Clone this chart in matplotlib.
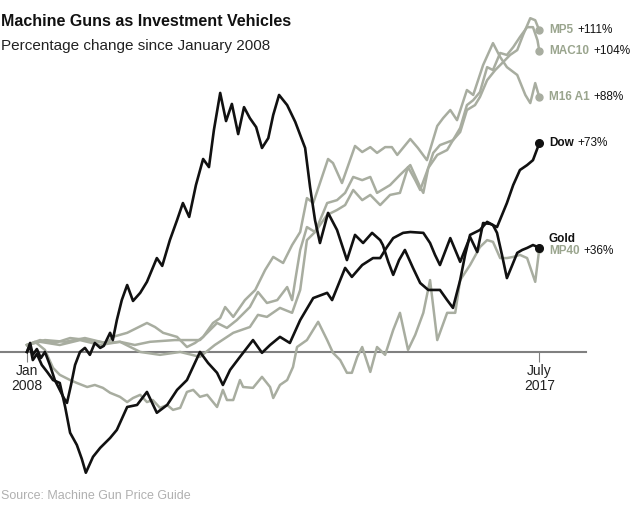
import matplotlib.pyplot as plt

plt.rcParams['font.family'] = ['Liberation Sans', 'DejaVu Sans']

# x = months since January 2008, y = percentage change since January 2008
dow = [(0, 0), (0.7, 2.1), (1.3, -2.8), (2.2, -0.7), (3.3, -4.5), (4.5, -6.9), (5.8, -9.7),
       (7.3, -10.7), (8.5, -19.0), (9.6, -27.9), (11.1, -32.1), (12.2, -36.9), (13.1, -41.7),
       (14.7, -36.2), (16.3, -33.1), (18.5, -29.7), (20.0, -26.9), (22.3, -19.0), (24.5, -18.3),
       (26.7, -13.8), (28.9, -21.0), (31.2, -18.3), (33.4, -13.1), (35.6, -9.7), (38.5, 0),
       (40.3, -3.8), (42.3, -7.2), (43.6, -11.4), (45.2, -6.2), (47.4, -1.7), (50.3, 4.1),
       (52.3, -0.3), (54.1, 2.4), (56.3, 5.2), (58.5, 3.1), (60.8, 11.0), (63.7, 18.6),
       (66.8, 20.4), (67.9, 17.9), (70.8, 29.0), (72.3, 25.9), (74.6, 30.0), (77.0, 32.4),
       (78.6, 32.4), (80.1, 36.2), (81.5, 39.3), (83.7, 41.1), (85.3, 41.4), (88.2, 41.1),
       (89.7, 37.6), (90.8, 33.5), (91.9, 30.0), (94.2, 39.3), (95.3, 35.2), (96.4, 31.1),
       (98.6, 39.7), (100.2, 34.5), (101.5, 44.5), (103.1, 44.2), (104.6, 43.1), (106.8, 51.4),
       (108.2, 57.6), (109.7, 62.8), (111.3, 64.5), (112.6, 66.2), (114, 72)]

gold = [(0, 0), (0.7, 3.1), (1.3, -1.0), (2.2, 1.0), (3.1, -2.1), (4.0, 0), (5.1, -4.5),
        (6.2, -9.7), (7.3, -13.1), (8.2, -15.9), (8.9, -17.6), (9.8, -11.4), (10.7, -4.5),
        (11.8, 0), (12.9, 1.4), (14.0, -1.0), (15.1, 3.1), (16.3, 1.4), (17.1, 2.1), (18.5, 6.6),
        (19.1, 4.1), (20.0, 11.0), (21.1, 17.9), (22.3, 23.1), (23.6, 17.6), (25.2, 20.4),
        (26.7, 24.2), (28.9, 32.4), (30.1, 29.7), (31.8, 38.6), (33.4, 45.5), (34.7, 51.4),
        (36.1, 46.6), (37.6, 57.6), (39.2, 66.6), (40.5, 63.8), (41.6, 76.6), (43.0, 89.4),
        (44.3, 79.7), (45.6, 85.6), (47.0, 75.2), (48.3, 84.5), (49.6, 80.7), (51.0, 77.6),
        (52.3, 70.4), (53.7, 73.8), (54.8, 81.8), (56.1, 88.7), (57.9, 85.2), (59.7, 79.4),
        (60.8, 74.9), (61.9, 70.4), (63.0, 56.9), (64.1, 45.5), (65.2, 37.6), (67.0, 48.0),
        (69.0, 42.1), (71.2, 31.7), (73.0, 40.4), (74.8, 37.6), (76.8, 41.1), (78.6, 38.6),
        (79.2, 36.9), (80.4, 31.1), (81.5, 26.6), (82.8, 31.7), (84.1, 35.2), (85.9, 29.0),
        (87.5, 23.8), (89.3, 21.4), (91.9, 21.4), (93.5, 17.9), (94.8, 15.2), (96.4, 24.8),
        (97.5, 33.5), (98.6, 40.4), (100.8, 42.1), (102.4, 44.9), (103.7, 43.8), (104.6, 41.1),
        (105.7, 33.5), (106.8, 25.5), (108.0, 30.0), (109.1, 34.2), (110.2, 35.2), (111.3, 35.9),
        (112.6, 36.9), (114, 36)]

mp5 = [(0, 2.4), (2.9, 3.5), (7.3, 2.4), (11.8, 4.1), (16.3, 2.4), (20.7, 3.5), (25.2, 0),
       (29.6, -1.0), (34.1, 0), (38.5, -1.7), (41.8, 2.4), (45.9, 6.6), (49.6, 8.6), (51.4, 12.8),
       (53.4, 12.1), (56.3, 15.2), (59.0, 13.5), (60.8, 21.4), (62.3, 38.6), (64.1, 41.4),
       (66.8, 47.3), (69.0, 49.0), (70.8, 50.7), (72.6, 55.9), (74.6, 52.4), (76.4, 54.2),
       (78.6, 50.7), (80.8, 54.2), (83.0, 54.9), (84.8, 63.8), (86.4, 59.3), (87.5, 55.9),
       (89.3, 63.5), (91.3, 68.0), (93.5, 69.7), (94.8, 73.1), (96.4, 75.9), (97.9, 83.5),
       (99.7, 85.2), (100.8, 88.0), (102.4, 93.8), (104.2, 97.3), (106.0, 100.1), (107.5, 102.5),
       (109.1, 104.2), (110.4, 109.4), (112.0, 115.2), (113.1, 114.5), (114, 111)]

mac10 = [(0, 2.4), (4.0, 4.1), (8.5, 3.5), (12.9, 4.8), (17.4, 3.1), (20.7, 3.5), (24.0, 2.4),
         (27.4, 3.5), (32.9, 4.1), (38.5, 4.1), (42.3, 10.0), (44.5, 8.3), (46.7, 11.0),
         (49.6, 15.5), (51.4, 20.7), (53.4, 16.9), (55.7, 17.9), (57.9, 22.4), (59.0, 17.9),
         (59.7, 24.8), (60.8, 35.2), (62.3, 43.1), (64.1, 41.4), (65.9, 48.0), (66.8, 51.4),
         (69.0, 52.4), (70.8, 54.9), (72.6, 60.4), (74.6, 59.3), (76.4, 60.4), (77.9, 54.9),
         (80.8, 57.6), (83.0, 61.1), (85.3, 64.5), (87.5, 56.9), (88.2, 54.9), (89.3, 63.5),
         (90.4, 68.7), (91.9, 71.4), (94.8, 73.1), (96.4, 77.3), (97.9, 85.2), (99.3, 86.9),
         (100.8, 89.7), (102.4, 98.3), (103.7, 97.3), (105.3, 103.2), (106.8, 102.5),
         (108.2, 105.2), (109.7, 108.7), (111.3, 112.1), (112.6, 112.1), (113.6, 107.6), (114, 104)]

m16 = [(0, 2.4), (2.9, 4.1), (6.2, 3.1), (9.6, 4.8), (13.4, 4.1), (17.8, 3.1), (19.1, 5.2),
       (22.3, 6.6), (26.7, 10.0), (28.5, 8.6), (30.3, 6.6), (33.4, 5.2), (35.6, 1.7), (37.4, 3.1),
       (39.2, 5.2), (41.4, 10.0), (43.0, 11.7), (44.1, 15.5), (45.9, 12.1), (48.5, 17.9),
       (50.8, 21.4), (53.0, 28.3), (54.8, 32.8), (57.0, 30.7), (59.0, 36.9), (60.8, 41.4),
       (62.3, 53.1), (63.7, 51.4), (65.2, 58.3), (67.0, 66.6), (68.1, 65.2), (70.1, 58.3),
       (73.0, 71.1), (74.6, 69.0), (76.4, 70.7), (77.9, 68.7), (79.7, 70.7), (81.2, 70.7),
       (82.4, 68.0), (85.3, 73.5), (87.0, 70.4), (89.0, 66.2), (91.3, 78.0), (92.6, 80.7),
       (94.2, 83.5), (95.7, 80.0), (97.9, 90.4), (99.3, 88.7), (101.5, 99.0), (103.7, 106.6),
       (105.3, 101.8), (106.8, 98.3), (109.1, 95.6), (110.9, 88.7), (112.0, 85.9), (113.1, 92.8),
       (114, 88)]

mp40 = [(0, 2.4), (1.8, 3.5), (4.0, 0.7), (5.8, -5.5), (7.3, -7.9), (9.6, -9.7), (11.1, -10.7),
        (13.4, -12.1), (15.1, -11.4), (16.9, -12.4), (18.5, -14.1), (20.7, -15.5), (22.3, -17.3),
        (23.6, -15.9), (25.2, -14.8), (26.7, -17.3), (28.0, -16.6), (29.6, -19.3), (31.2, -18.3),
        (32.5, -20.0), (34.1, -19.3), (35.6, -13.8), (37.0, -13.1), (38.5, -15.5), (40.1, -14.8),
        (42.3, -19.0), (43.6, -13.1), (44.5, -16.6), (45.9, -16.6), (47.4, -9.7), (48.1, -12.1),
        (50.3, -12.4), (52.3, -8.6), (54.1, -12.1), (54.8, -15.9), (56.3, -11.4), (57.9, -9.7),
        (59.2, -5.2), (60.1, 1.7), (62.3, 4.1), (64.8, 10.4), (66.8, 4.1), (68.1, -0.3),
        (69.7, -2.8), (71.2, -7.2), (72.3, -7.2), (73.5, -1.7), (74.6, 1.7), (76.4, -6.9),
        (77.9, 1.7), (79.7, -1.0), (81.5, 7.6), (83.0, 13.5), (84.8, 0.7), (86.4, 5.9),
        (88.2, 13.5), (89.7, 24.8), (91.3, 4.1), (93.5, 13.5), (95.3, 13.5), (96.4, 24.8),
        (98.6, 30.0), (100.8, 36.2), (102.4, 38.6), (103.7, 38.0), (105.3, 32.4), (106.8, 32.4),
        (108.2, 32.8), (109.7, 33.5), (111.3, 32.4), (113.1, 24.2), (114, 35.5)]

gun_series = [mp5, mac10, m16, mp40]
black_series = [dow, gold]

# end labels: name, change text, name colour, extra vertical offset (points)
end_labels = [
    ('MP5', '+111%', 'gun', 0, mp5),
    ('MAC10', '+104%', 'gun', 0, mac10),
    ('M16 A1', '+88%', 'gun', 0, m16),
    ('Dow', '+73%', 'black', 0, dow),
    ('Gold', '', 'black', 6, gold),
    ('MP40', '+36%', 'gun', -1.5, mp40),
]

tick_pos = [0, 114]
tick_labels = ['Jan\n2008', 'July\n2017']

GUN_LINE = '#a8ada0'
GUN_TEXT = '#9aa58e'

fig = plt.figure(figsize=(6.4, 5.18), dpi=100)
ax = fig.add_axes([0, 38 / 518, 586 / 640, 465 / 518])

for s in gun_series:
    xs, ys = zip(*s)
    ax.plot(xs, ys, color=GUN_LINE, lw=1.8, solid_joinstyle='round', zorder=2)
    ax.plot(xs[-1], ys[-1], 'o', color=GUN_LINE, ms=5, zorder=2)

for s in black_series:
    xs, ys = zip(*s)
    ax.plot(xs, ys, color='#111111', lw=1.9, solid_joinstyle='round', zorder=3)
    ax.plot(xs[-1], ys[-1], 'o', color='#111111', ms=5.5, zorder=4)

for name, val, col, dy, s in end_labels:
    c = GUN_TEXT if col == 'gun' else '#111111'
    t = ax.annotate(name, xy=s[-1], xytext=(7, dy), textcoords='offset points',
                    ha='left', va='center', fontsize=8.5, fontweight='bold', color=c,
                    annotation_clip=False)
    if val:
        ax.annotate(val, xy=(1, 0.5), xycoords=t, xytext=(3, 0), textcoords='offset points',
                    ha='left', va='center', fontsize=8.5, color='#111111')

ax.set_xlim(-6.0, 124.4)
ax.set_ylim(-44.2, 116.3)
for side in ['top', 'right', 'left']:
    ax.spines[side].set_visible(False)
ax.spines['bottom'].set_position(('data', 0))
ax.spines['bottom'].set_color('#808080')
ax.spines['bottom'].set_linewidth(1.5)
ax.spines['bottom'].set_zorder(1)
ax.set_yticks([])
ax.set_xticks(tick_pos, tick_labels)
ax.tick_params(axis='x', length=7, width=0.8, color='#808080', pad=2, labelsize=10,
               labelcolor='#222222')
for lab in ax.get_xticklabels():
    lab.set_linespacing(1.05)
ax.patch.set_alpha(0)

fig.text(0.002, 1 - 22 / 518, 'Machine Guns as Investment Vehicles', fontsize=11.5,
         fontweight='bold', color='#111111', va='center', ha='left')
fig.text(0.002, 1 - 46 / 518, 'Percentage change since January 2008', fontsize=11,
         color='#222222', va='center', ha='left')
fig.text(0.002, 1 - 496 / 518, 'Source: Machine Gun Price Guide', fontsize=9,
         color='#b0b0b0', va='center', ha='left')

fig.savefig('out.png', dpi=100, facecolor='white')
